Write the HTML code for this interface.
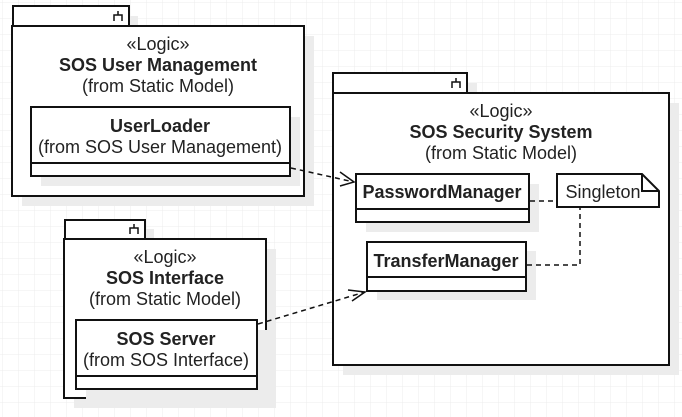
<!DOCTYPE html>
<html><head><meta charset="utf-8"><style>
html,body{margin:0;padding:0;background:#fff}
svg{display:block}
text{font-family:"Liberation Sans",sans-serif;fill:#222;font-size:18px}
.b{font-weight:bold}
</style></head><body>
<svg width="682" height="417" viewBox="0 0 682 417" xmlns="http://www.w3.org/2000/svg">
<defs>
<pattern id="g" width="16" height="16" patternUnits="userSpaceOnUse" x="3" y="3">
<path d="M16 0V16H0" fill="none" stroke="#ececec" stroke-width="1"/>
</pattern>
</defs>
<rect width="682" height="417" fill="url(#g)"/>
<g fill="#ececec">
<rect x="22" y="16" width="116" height="20"/><rect x="22" y="36" width="292" height="170"/>
<rect x="343" y="83" width="134" height="20"/><rect x="343" y="103" width="336" height="272"/>
<rect x="74" y="229" width="80" height="20"/><rect x="74" y="249" width="202" height="159"/>
</g>
<g stroke="#111" stroke-width="2" fill="#fff">
<rect x="13" y="6" width="116" height="20"/><rect x="12" y="26" width="292" height="170"/>
<rect x="333" y="73" width="134" height="20"/><rect x="333" y="93" width="336" height="272"/>
<rect x="65" y="220" width="80" height="19"/><rect x="64" y="239" width="202" height="159"/>
</g>
<g stroke="#111" stroke-width="1.5" fill="none">
<path d="M114 21v-6h8v6M118 15v-4"/><path d="M452 88v-6h8v6M456 82v-4"/><path d="M130 234v-6h8v6M134 228v-4"/>
</g>
<g fill="#ececec">
<rect x="41" y="117" width="259" height="69"/>
<rect x="366" y="184" width="173" height="48"/>
<rect x="377" y="251" width="159" height="49"/>
<rect x="86" y="330" width="181" height="69"/>
</g>
<g stroke="#111" stroke-width="2" fill="#fff">
<rect x="31" y="107" width="259" height="69"/><line x1="31" y1="163" x2="290" y2="163"/>
<rect x="356" y="174" width="173" height="48"/><line x1="356" y1="209" x2="529" y2="209"/>
<rect x="367" y="242" width="159" height="49"/><line x1="367" y1="277" x2="526" y2="277"/>
<rect x="76" y="320" width="181" height="69"/><line x1="76" y1="376" x2="257" y2="376"/>
<path d="M557 174h85l17 17v16h-102z"/><path d="M642 174v17h17" fill="none"/>
</g>
<g stroke="#111" stroke-width="1.5" fill="none" stroke-dasharray="5,4">
<path d="M291 168L354 182"/>
<path d="M258 324L365 292"/>
<path d="M530 201H557"/>
<path d="M527 265H580V208"/>
</g>
<g stroke="#111" stroke-width="1.5" fill="none">
<path d="M340 172L354 182L340 186"/>
<path d="M348 290L365 292L352 301"/>
</g>
<g text-anchor="middle">
<text x="158" y="50">«Logic»</text>
<text x="158" y="71" class="b">SOS User Management</text>
<text x="158" y="92">(from Static Model)</text>
<text x="160" y="132" class="b">UserLoader</text>
<text x="160" y="153">(from SOS User Management)</text>
<text x="501" y="117">«Logic»</text>
<text x="501" y="138" class="b">SOS Security System</text>
<text x="501" y="159">(from Static Model)</text>
<text x="442" y="198" class="b">PasswordManager</text>
<text x="446" y="267" class="b">TransferManager</text>
<text x="603" y="198">Singleton</text>
<text x="165" y="263">«Logic»</text>
<text x="165" y="284" class="b">SOS Interface</text>
<text x="165" y="305">(from Static Model)</text>
<text x="166" y="345" class="b">SOS Server</text>
<text x="166" y="366">(from SOS Interface)</text>
</g>
</svg>
</body></html>
